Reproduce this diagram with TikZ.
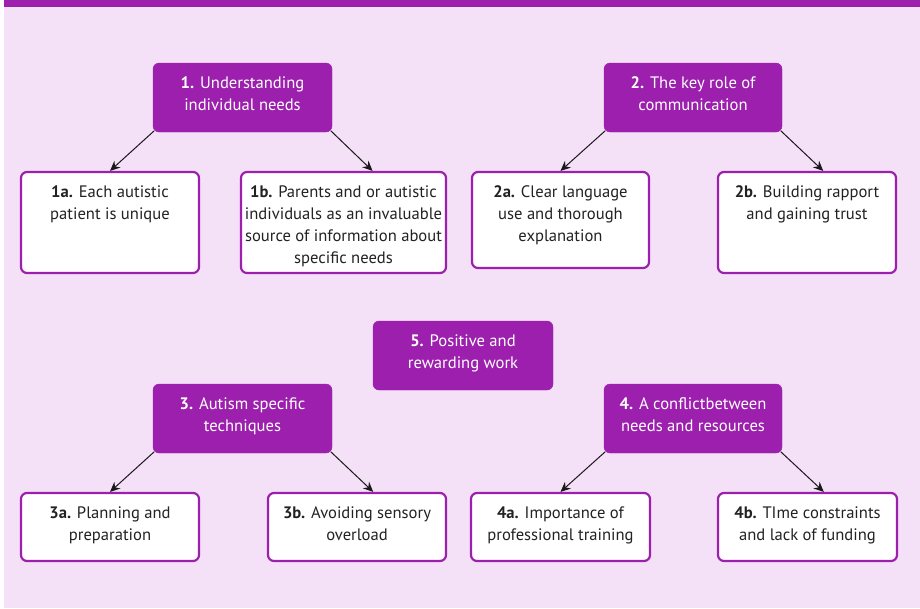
\documentclass[tikz,border=0pt]{standalone}
\usepackage{fontspec}
\setmainfont{PT Sans}
\usetikzlibrary{arrows.meta,calc}
\definecolor{purp}{HTML}{9C1FAD}
\definecolor{bgpink}{HTML}{F4E1F7}
\definecolor{txt}{HTML}{222222}
\newcommand{\boxtxt}[3]{\begin{minipage}[c][#2pt][t]{#1pt}\centering\fontsize{16.6}{22}\selectfont\rule{0pt}{25pt}#3\end{minipage}}
\tikzset{
  pbox/.style={fill=purp, draw=purp, rounded corners=6pt, inner sep=0pt, text=white},
  wbox/.style={fill=white, draw=purp, line width=2.2pt, rounded corners=6pt, inner sep=0pt, text=txt},
  arr/.style={draw=black!90, line width=1pt, -{Stealth[length=10pt,width=9pt]}}
}
\begin{document}
\begin{tikzpicture}[x=1pt,y=-1pt]
\useasboundingbox (0,0) rectangle (920,608);
\fill[bgpink] (4,0) rectangle (920,608);
\fill[purp] (4,0) rectangle (920,7);

% parents
\node[pbox] (n1) at (242.5,97.5) {\boxtxt{179}{69}{\textbf{1.} Understanding\\individual needs}};
\node[pbox] (n2) at (693,97.5) {\boxtxt{178}{69}{\textbf{2.} The key role of\\communication}};
\node[pbox] (n5) at (463,355.5) {\boxtxt{180}{69}{\textbf{5.} Positive and\\rewarding work}};
\node[pbox] (n3) at (242.5,418.5) {\boxtxt{179}{69}{\textbf{3.} Autism specific\\techniques}};
\node[pbox] (n4) at (693,418.5) {\boxtxt{178}{69}{\textbf{4.} A conflictbetween\\needs and resources}};

% children
\node[wbox] (n1a) at (110,222.5) {\boxtxt{178}{101}{\textbf{1a.} Each autistic\\patient is unique}};
\node[wbox] (n1b) at (343.5,222.5) {\boxtxt{205}{101}{\textbf{1b.} Parents and or autistic\\individuals as an invaluable\\source of information about\\specific needs}};
\node[wbox] (n2a) at (560.5,220) {\boxtxt{177}{96}{\textbf{2a.} Clear language\\use and thorough\\explanation}};
\node[wbox] (n2b) at (807,222.5) {\boxtxt{178}{101}{\textbf{2b.} Building rapport\\and gaining trust}};
\node[wbox] (n3a) at (110,527) {\boxtxt{178}{68}{\textbf{3a.} Planning and\\preparation}};
\node[wbox] (n3b) at (357,527) {\boxtxt{178}{68}{\textbf{3b.} Avoiding sensory\\overload}};
\node[wbox] (n4a) at (560.5,527) {\boxtxt{179}{68}{\textbf{4a.} Importance of\\professional training}};
\node[wbox] (n4b) at (807.5,527) {\boxtxt{179}{68}{\textbf{4b.} TIme constraints\\and lack of funding}};

% connectors
\draw[arr] ([shift={(1.5,-1.5)}]n1.south west) -- (n1a.north);
\draw[arr] ([shift={(-1.5,-1.5)}]n1.south east) -- ($(n1b.north west)!0.64!(n1b.north east)$);
\draw[arr] ([shift={(1.5,-1.5)}]n2.south west) -- (n2a.north);
\draw[arr] ([shift={(-1.5,-1.5)}]n2.south east) -- ($(n2b.north west)!0.59!(n2b.north east)$);
\draw[arr] ([shift={(1.5,-1.5)}]n3.south west) -- (n3a.north);
\draw[arr] ([shift={(-1.5,-1.5)}]n3.south east) -- ($(n3b.north west)!0.59!(n3b.north east)$);
\draw[arr] ([shift={(1.5,-1.5)}]n4.south west) -- (n4a.north);
\draw[arr] ([shift={(-1.5,-1.5)}]n4.south east) -- ($(n4b.north west)!0.59!(n4b.north east)$);
\end{tikzpicture}
\end{document}
